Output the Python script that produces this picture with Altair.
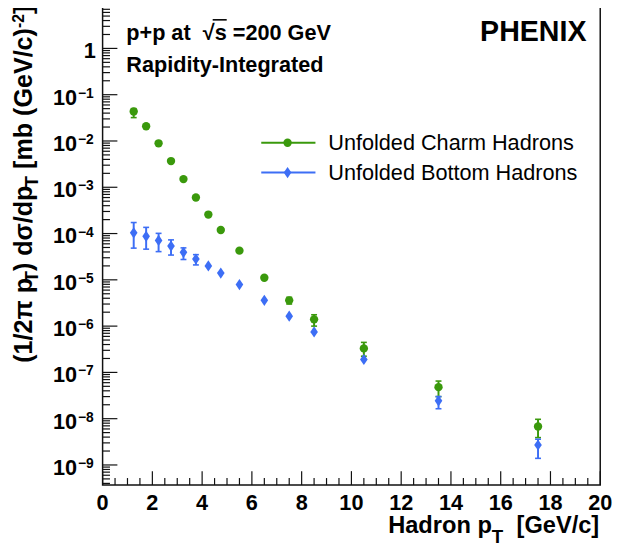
import altair as alt
import pandas as pd

# ---------------- data ----------------
pt = [1.25, 1.75, 2.25, 2.75, 3.25, 3.75, 4.25, 4.75, 5.5, 6.5, 7.5, 8.5, 10.5, 13.5, 17.5]
charm = [4.34e-2, 2.08e-2, 8.9e-3, 3.68e-3, 1.50e-3, 6.0e-4, 2.57e-4, 1.19e-4, 4.27e-5, 1.11e-5,
         3.6e-6, 1.40e-6, 3.3e-7, 4.8e-8, 6.8e-9]
charm_lo = [3.2e-2, 2.08e-2, 8.9e-3, 3.68e-3, 1.50e-3, 6.0e-4, 2.57e-4, 1.19e-4, 4.27e-5, 1.11e-5,
            3.0e-6, 1.0e-6, 2.24e-7, 3.0e-8, 3.9e-9]
charm_hi = [5.0e-2, 2.08e-2, 8.9e-3, 3.68e-3, 1.50e-3, 6.0e-4, 2.57e-4, 1.19e-4, 4.27e-5, 1.11e-5,
            4.2e-6, 1.76e-6, 4.45e-7, 6.5e-8, 9.7e-9]
bottom = [1.04e-4, 8.7e-5, 7.08e-5, 5.35e-5, 3.92e-5, 2.82e-5, 2.0e-5, 1.40e-5, 7.9e-6, 3.6e-6,
          1.64e-6, 7.5e-7, 1.9e-7, 2.43e-8, 2.7e-9]
bottom_lo = [4.84e-5, 4.6e-5, 4.07e-5, 3.43e-5, 2.75e-5, 2.1e-5, 2.0e-5, 1.40e-5, 7.9e-6, 3.6e-6,
             1.64e-6, 7.5e-7, 1.9e-7, 1.64e-8, 1.39e-9]
bottom_hi = [1.73e-4, 1.36e-4, 1.01e-4, 7.3e-5, 4.9e-5, 3.5e-5, 2.0e-5, 1.40e-5, 7.9e-6, 3.6e-6,
             1.64e-6, 7.5e-7, 1.9e-7, 3.0e-8, 3.6e-9]

series = ["Unfolded Charm Hadrons", "Unfolded Bottom Hadrons"]
colors = ["#3a990c", "#3d6ef5"]

x_major = list(range(0, 21, 2))
x_minor = [i * 0.5 for i in range(41) if i % 4 != 0]
y_exponents = [-9, -8, -7, -6, -5, -4, -3, -2, -1]
y_domain = [3.7e-10, 7.84]
y_minor = [m * 10.0 ** k for k in range(-10, 1) for m in range(2, 10)
           if y_domain[0] <= m * 10.0 ** k <= y_domain[1]]

title_line1 = [("p+p at", "text"), ("  ", "gap"), ("\u221a", "text"), ("s", "over"),
               (" ", "gap"), ("=200 GeV", "text")]
title_line2 = "Rapidity-Integrated"
experiment = "PHENIX"
ytitle_parts = [("(1/2\u03c0 p", "main"), ("T", "sub"), (") d\u03c3/dp", "main"), ("T", "sub"),
                (" ", "gap"), ("[mb (GeV/c)", "main"), ("-2", "sup"), ("]", "main")]
xtitle_parts = ["Hadron p", "T", "[GeV/c]"]

FONT = "Liberation Sans"
W = {' ': 278, '(': 333, ')': 333, '1': 556, '2': 556, '/': 278, '\u03c0': 580, 'p': 611, 'T': 611,
     'd': 611, '\u03c3': 610, '[': 333, ']': 333, 'm': 889, 'b': 611, 'G': 778, 'e': 556, 'V': 667,
     'c': 556, '-': 333, 'H': 722, 'a': 556, 'r': 389, 'o': 611, 'n': 611, '+': 584, 't': 333,
     '\u221a': 549, 's': 556, '=': 584, '0': 556}


def tw(s, size):
    return sum(W.get(ch, 556) for ch in s) * size / 1000.0


# ---------------- scales ----------------
xs = alt.Scale(domain=[0, 20], nice=False, zero=False)
ys = alt.Scale(type="log", domain=y_domain, nice=False)
X = alt.X("pt:Q", scale=xs, axis=None)
Y = alt.Y("v:Q", scale=ys, axis=None)

df_c = pd.DataFrame({"pt": pt, "v": charm, "lo": charm_lo, "hi": charm_hi})
df_b = pd.DataFrame({"pt": pt, "v": bottom, "lo": bottom_lo, "hi": bottom_hi})

diamond = "M0,-1L0.68,0L0,1L-0.68,0Z"
DSIZE = 130
CSIZE = 72


def errors(df, color):
    base = alt.Chart(df).transform_filter("datum.hi > datum.lo")
    bar = base.mark_rule(color=color, strokeWidth=2).encode(
        x=X, y=alt.Y("lo:Q", scale=ys, axis=None), y2="hi:Q")
    cap1 = base.mark_tick(orient="horizontal", size=6, thickness=1.6, color=color, opacity=1).encode(
        x=X, y=alt.Y("lo:Q", scale=ys, axis=None))
    cap2 = base.mark_tick(orient="horizontal", size=6, thickness=1.6, color=color, opacity=1).encode(
        x=X, y=alt.Y("hi:Q", scale=ys, axis=None))
    return [bar, cap1, cap2]


pts_c = alt.Chart(df_c).mark_point(shape="circle", filled=True, size=CSIZE, opacity=1,
                                   color=colors[0]).encode(x=X, y=Y)
pts_b = alt.Chart(df_b).mark_point(shape=diamond, filled=True, size=DSIZE, opacity=1,
                                   color=colors[1]).encode(x=X, y=Y)

# ---------------- ticks (inside the frame) ----------------
H = 485
ymaj = pd.DataFrame({"v": [10.0 ** k for k in y_exponents + [0]]})
ymin = pd.DataFrame({"v": y_minor})
xmaj = pd.DataFrame({"pt": x_major})
xmin = pd.DataFrame({"pt": x_minor})
tk = dict(color="#111", strokeWidth=1.2)
ticks = [
    alt.Chart(ymaj).mark_rule(**tk).encode(y=Y, x=alt.value(0), x2=alt.value(15)),
    alt.Chart(ymin).mark_rule(**tk).encode(y=Y, x=alt.value(0), x2=alt.value(7.5)),
    alt.Chart(xmaj).mark_rule(**tk).encode(x=X, y=alt.value(H), y2=alt.value(H - 14)),
    alt.Chart(xmin).mark_rule(**tk).encode(x=X, y=alt.value(H), y2=alt.value(H - 7)),
]

# ---------------- tick labels ----------------
ylab = pd.DataFrame({"v": [10.0 ** k for k in y_exponents],
                     "base": ["10"] * len(y_exponents),
                     "exp": ["\u2212" + str(-k) for k in y_exponents]})
one = pd.DataFrame({"v": [1.0], "base": ["1"]})
lab = dict(font=FONT, fontWeight="bold", color="black")
labels = [
    alt.Chart(ylab).mark_text(align="right", baseline="alphabetic", fontSize=22, dy=10, **lab).encode(
        y=Y, x=alt.value(-26), text="base:N"),
    alt.Chart(ylab).mark_text(align="left", baseline="alphabetic", fontSize=14, dy=3, **lab).encode(
        y=Y, x=alt.value(-25), text="exp:N"),
    alt.Chart(one).mark_text(align="right", baseline="alphabetic", fontSize=22, dy=10, **lab).encode(
        y=Y, x=alt.value(-7), text="base:N"),
    alt.Chart(pd.DataFrame({"pt": x_major, "t": [str(v) for v in x_major]})).mark_text(
        align="center", baseline="alphabetic", fontSize=22, **lab).encode(
        x=X, y=alt.value(510), text="t:N"),
]


def txt(s, x, y, size, weight="bold", align="left", angle=0):
    kw = dict(font=FONT, fontWeight=weight, fontSize=size, align=align, baseline="alphabetic",
              color="black")
    if angle:
        kw["angle"] = angle
    return alt.Chart(pd.DataFrame({"t": [s]})).mark_text(**kw).encode(
        x=alt.value(x), y=alt.value(y), text="t:N")


annot = []
# y title (rotated, read bottom to top)
F, FS = 25.5, 19
YB = -72
ypos = 361.0
for s, kind in ytitle_parts:
    if kind == "gap":
        ypos -= tw(s, F)
    elif kind == "main":
        annot.append(txt(s, YB, ypos, F, angle=270))
        ypos -= tw(s, F)
    elif kind == "sub":
        annot.append(txt(s, YB + 6, ypos, FS, angle=270))
        ypos -= tw(s, FS)
    else:
        annot.append(txt(s, YB - 8, ypos, 16, angle=270))
        ypos -= tw(s, 16)

# x title
annot.append(txt(xtitle_parts[0], 395, 534, 24, align="right"))
annot.append(txt(xtitle_parts[1], 395, 544, 19))
annot.append(txt(xtitle_parts[2], 504, 534, 24, align="right"))

# top-left label
F1 = 22
xp = 24.0
for s, kind in title_line1:
    if kind != "gap":
        annot.append(txt(s, xp, 33, F1))
    if kind == "over":
        annot.append(alt.Chart(pd.DataFrame({"a": [0]})).mark_rule(color="black", strokeWidth=1.6).encode(
            x=alt.value(xp - 2), x2=alt.value(xp + tw(s, F1)), y=alt.value(13)))
    xp += tw(s, F1)
annot.append(txt(title_line2, 24, 66, F1))
annot.append(txt(experiment, 491, 34, 29, align="right"))

# legend
leg = []
for i, (name, col, yl) in enumerate(zip(series, colors, [137.7, 168.0])):
    d1 = pd.DataFrame({"a": [0]})
    leg.append(alt.Chart(d1).mark_rule(color=col, strokeWidth=2).encode(
        x=alt.value(161), x2=alt.value(216), y=alt.value(yl)))
    shp = "circle" if i == 0 else diamond
    sz = CSIZE if i == 0 else DSIZE
    leg.append(alt.Chart(d1).mark_point(shape=shp, filled=True, size=sz, opacity=1, color=col).encode(
        x=alt.value(187.7), y=alt.value(yl)))
    leg.append(txt(name, 229, yl + 7.5, 22, weight="normal"))

chart = alt.layer(
    *ticks, *errors(df_c, colors[0]), *errors(df_b, colors[1]), pts_c, pts_b, *labels, *annot, *leg
).properties(
    width=505, height=H,
    autosize=alt.AutoSizeParams(type="none"),
    padding={"left": 96, "top": -5, "right": 16, "bottom": 62},
).configure_view(stroke="#111", strokeWidth=1.5)

chart.save("out.html", embed_options={"renderer": "svg", "actions": False})
